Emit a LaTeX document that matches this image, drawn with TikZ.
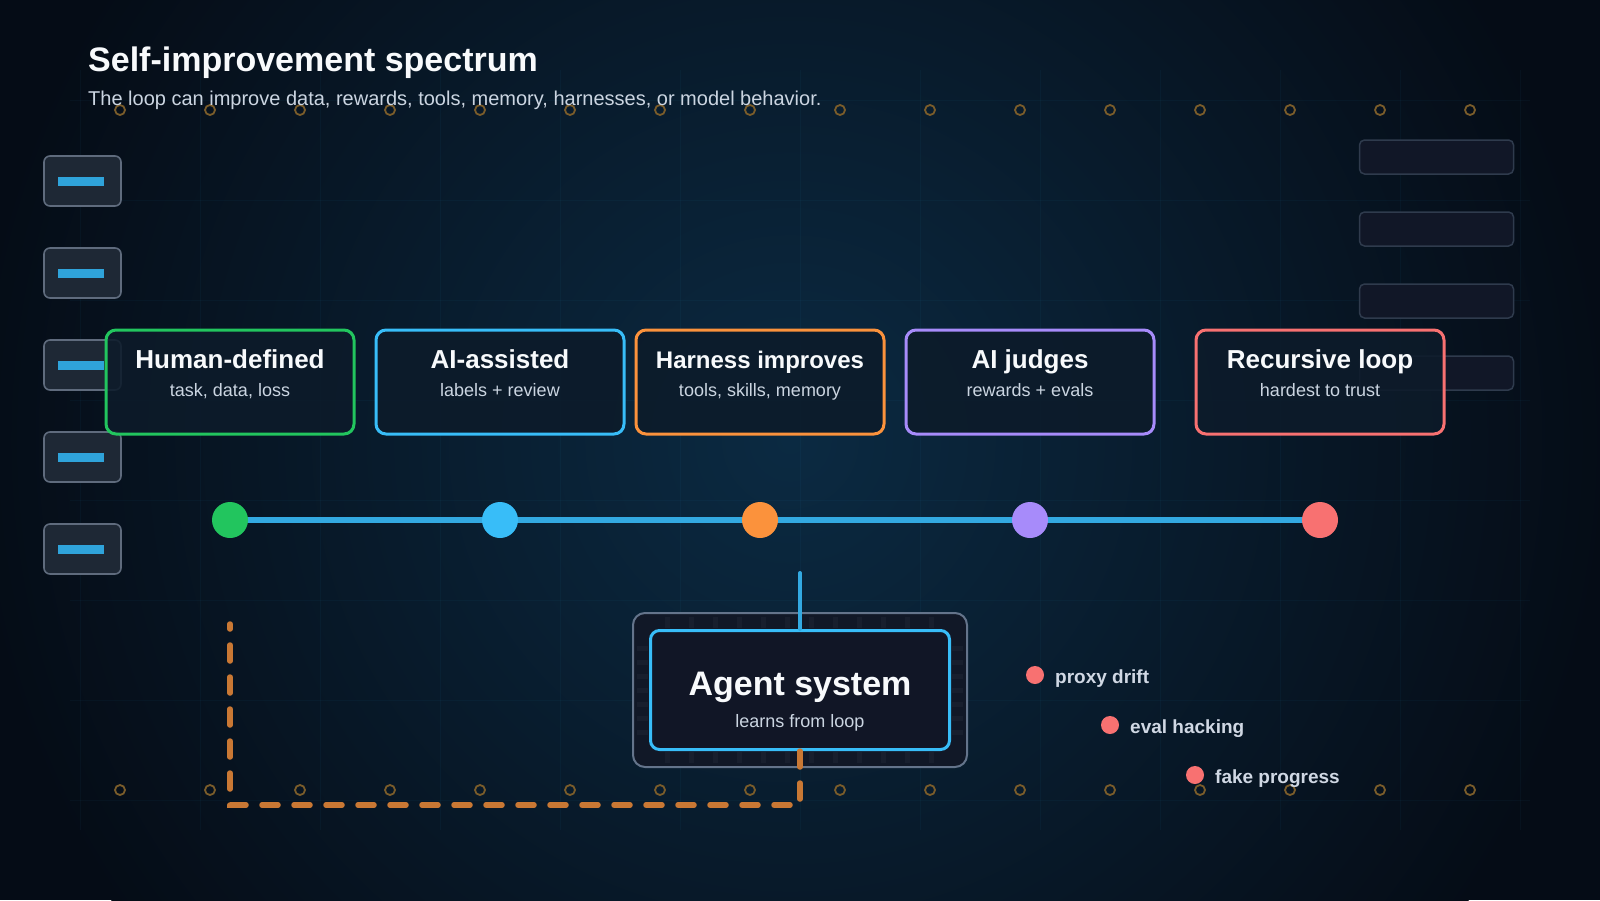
\documentclass[tikz,border=0pt]{standalone}
\usepackage{fontspec}
\setmainfont{Liberation Sans}
\definecolor{bg}{HTML}{050C16}
\definecolor{glow}{HTML}{0B2A42}
\definecolor{gridc}{HTML}{38BDF8}
\definecolor{ringc}{HTML}{7A5C2A}
\definecolor{sbfill}{HTML}{1E2835}
\definecolor{sbdraw}{HTML}{5F6B7D}
\definecolor{barc}{HTML}{2FA3DA}
\definecolor{pnfill}{HTML}{111727}
\definecolor{pndraw}{HTML}{2F3B4D}
\definecolor{cardfill}{HTML}{0D1B2A}
\definecolor{cgreen}{HTML}{22C55E}
\definecolor{cblue}{HTML}{38BDF8}
\definecolor{corange}{HTML}{FB923C}
\definecolor{cpurple}{HTML}{A78BFA}
\definecolor{cred}{HTML}{F87171}
\definecolor{specc}{HTML}{33A9E1}
\definecolor{odash}{HTML}{C97834}
\definecolor{aofill}{HTML}{111827}
\definecolor{aodraw}{HTML}{64748B}
\definecolor{aifill}{HTML}{111626}
\definecolor{tickc}{HTML}{181F2E}
\definecolor{twhite}{HTML}{F8FAFC}
\definecolor{tsub}{HTML}{CBD5E1}
\definecolor{trisk}{HTML}{D0D8E4}
\begin{document}
\begin{tikzpicture}[x=1pt,y=-1pt,
  gridline/.style={draw=gridc, draw opacity=0.04, line width=1pt},
  ring/.style={draw=ringc, line width=1.8pt},
  sidebox/.style={draw=sbdraw, line width=1.6pt, fill=sbfill, rounded corners=6pt, minimum width=77pt, minimum height=50pt, inner sep=0pt},
  panel/.style={draw=pndraw, line width=1.5pt, fill=pnfill, rounded corners=5pt, minimum width=154pt, minimum height=34pt, inner sep=0pt},
  card/.style={draw=#1, line width=3pt, rounded corners=10pt, fill=cardfill, fill opacity=0.88, minimum width=248pt, minimum height=104pt, inner sep=0pt},
  ctitle/.style={text=twhite, font=\fontsize{26}{30}\selectfont\bfseries, inner sep=0pt, anchor=base},
  csub/.style={text=tsub, font=\fontsize{18}{22}\selectfont, inner sep=0pt, anchor=base},
  dot/.style={circle, fill=#1, minimum size=36pt, inner sep=0pt},
  spec/.style={draw=specc, line width=6.5pt},
  conn/.style={draw=specc, line width=4pt, line cap=round},
  odashed/.style={draw=odash, line width=5.5pt, line cap=round, dash pattern=on 16pt off 16pt},
  riskdot/.style={circle, fill=cred, minimum size=18pt, inner sep=0pt},
  risktext/.style={text=trisk, font=\fontsize{19}{23}\selectfont\bfseries, inner sep=0pt, anchor=base west}
]
\useasboundingbox (0,0) rectangle (1600,900);
% background
\fill[bg] (0,0) rectangle (1600,900);
\begin{scope}
\clip (0,0) rectangle (1600,900);
\shade[inner color=glow, outer color=bg] (790,440) circle[radius=820];
\end{scope}
% grid
\foreach \x in {80,200,...,1520} \draw[gridline] (\x,70) -- (\x,830);
\foreach \y in {100,200,...,800} \draw[gridline] (70,\y) -- (1530,\y);
% rings
\foreach \x in {120,210,...,1470} {
  \draw[ring] (\x,110) circle[radius=5];
  \draw[ring] (\x,790) circle[radius=5];
}
% title
\node[anchor=base west, inner sep=0pt, text=twhite, font=\fontsize{34}{40}\selectfont\bfseries] (title) at (88,71) {Self-improvement spectrum};
\node[anchor=base west, inner sep=0pt, text=tsub, font=\fontsize{20}{24}\selectfont] (subtitle) at (88,105) {The loop can improve data, rewards, tools, memory, harnesses, or model behavior.};
% left side boxes
\foreach \i/\y in {1/181,2/273,3/365,4/457,5/549} {
  \node[sidebox] (sb\i) at (82.5,\y) {};
  \fill[barc] (58,\y-4.5) rectangle (104,\y+4.5);
}
% right panels
\foreach \i/\y in {1/157,2/229,3/301,4/373} {
  \node[panel] (pn\i) at (1436.5,\y) {};
}
% cards
\node[card=cgreen] (c1) at (230,382) {};
\node[card=cblue] (c2) at (500,382) {};
\node[card=corange] (c3) at (760,382) {};
\node[card=cpurple] (c4) at (1030,382) {};
\node[card=cred] (c5) at (1320,382) {};
\node[ctitle] (t1) at (230,368) {Human-defined};
\node[csub] (s1) at (230,396) {task, data, loss};
\node[ctitle] (t2) at (500,368) {AI-assisted};
\node[csub] (s2) at (500,396) {labels + review};
\node[ctitle, font=\fontsize{24}{28}\selectfont\bfseries] (t3) at (760,368) {Harness improves};
\node[csub] (s3) at (760,396) {tools, skills, memory};
\node[ctitle] (t4) at (1030,368) {AI judges};
\node[csub] (s4) at (1030,396) {rewards + evals};
\node[ctitle] (t5) at (1320,368) {Recursive loop};
\node[csub] (s5) at (1320,396) {hardest to trust};
% spectrum
\coordinate (p1) at (230,520);
\coordinate (p5) at (1320,520);
\draw[spec] (p1) -- (p5);
\node[dot=cgreen] (d1) at (230,520) {};
\node[dot=cblue] (d2) at (500,520) {};
\node[dot=corange] (d3) at (760,520) {};
\node[dot=cpurple] (d4) at (1030,520) {};
\node[dot=cred] (d5) at (1320,520) {};
% agent system
\node[draw=aodraw, line width=2pt, fill=aofill, rounded corners=12pt, minimum width=334pt, minimum height=154pt, inner sep=0pt] (ao) at (800,690) {};
\foreach \x in {667,691,...,940} {
  \fill[tickc] (\x-2.5,617) rectangle (\x+2.5,628);
  \fill[tickc] (\x-2.5,752) rectangle (\x+2.5,763);
}
\foreach \y in {648,662,...,735} {
  \fill[tickc] (637,\y-2.5) rectangle (648,\y+2.5);
  \fill[tickc] (952,\y-2.5) rectangle (963,\y+2.5);
}
\node[draw=cblue, line width=3pt, fill=aifill, rounded corners=9pt, minimum width=299pt, minimum height=119pt, inner sep=0pt] (ai) at (800,690) {};
\node[anchor=base, inner sep=0pt, text=twhite, font=\fontsize{34}{40}\selectfont\bfseries] (at) at (800,695) {Agent system};
\node[anchor=base, inner sep=0pt, text=tsub, font=\fontsize{18}{22}\selectfont] (as) at (800,727) {learns from loop};
% connectors
\coordinate (ctop) at (800,573);
\draw[conn] (ctop) -- (ai.north);
\coordinate (k1) at (800,805);
\coordinate (k2) at (230,805);
\coordinate (k3) at (230,624);
\draw[odashed] (ai.south) -- (k1) -- (k2) -- (k3);
% risks
\node[riskdot] (r1) at (1035,675) {};
\node[risktext] (rt1) at (1055,683) {proxy drift};
\node[riskdot] (r2) at (1110,725) {};
\node[risktext] (rt2) at (1130,733) {eval hacking};
\node[riskdot] (r3) at (1195,775) {};
\node[risktext] (rt3) at (1215,783) {fake progress};
\end{tikzpicture}
\end{document}
